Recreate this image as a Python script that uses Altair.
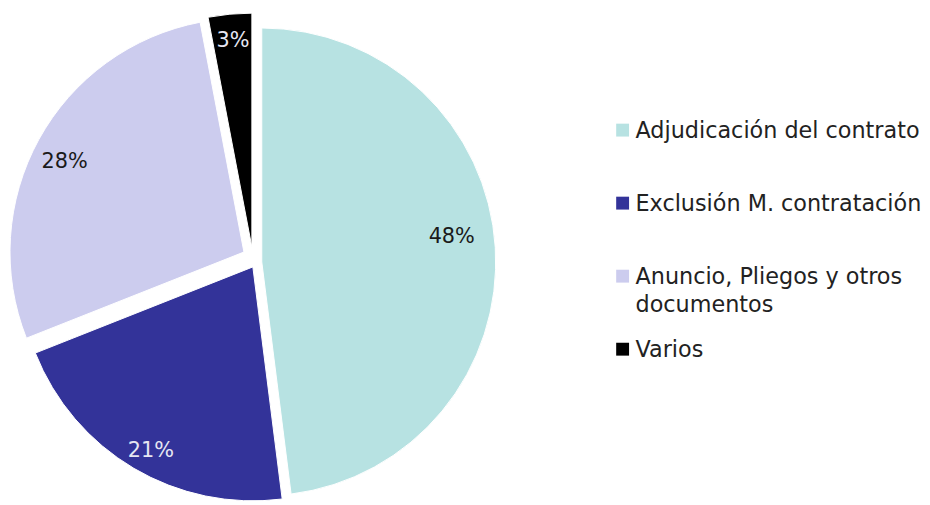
import altair as alt
import pandas as pd
import math

# ---- data ----
categories = ["Adjudicación del contrato", "Exclusión M. contratación",
              "Anuncio, Pliegos y otros documentos", "Varios"]
values = [48, 21, 28, 3]
legend_labels = ["Adjudicación del contrato", "Exclusión M. contratación",
                 "Anuncio, Pliegos y otros\ndocumentos", "Varios"]
colors = ["#b7e2e2", "#333399", "#ccccee", "#000000"]

# ---- styling (not data) ----
label_colors = ["#1a1a1a", "#e6e6f2", "#1a1a1a", "#e6e6f2"]
explode = [(9, 9), (0, 14), (-9, -1), (-1, -6)]   # px offsets of each slice
label_radius = [192, 212, 212, 212]
label_shift = [(0, -13), (5, 3), (5, 11), (1, 3)]
R = 236
FONT = "DejaVu Sans"

df = pd.DataFrame({
    "cat": categories,
    "value": values,
    "order": list(range(len(categories))),
    "legend": legend_labels,
})

color_scale = alt.Scale(domain=categories, range=colors)
theta_scale = alt.Scale(domain=[0, 100], range=[0, 2 * math.pi])

base = alt.Chart(df).transform_window(
    cum="sum(value)", sort=[{"field": "order"}], frame=[None, 0]
).transform_calculate(
    start="datum.cum - datum.value",
    mid="datum.cum - datum.value / 2",
    pct="datum.value + '%'",
)

layers = []
for i, cat in enumerate(categories):
    dx, dy = explode[i]
    sub = base.transform_filter(alt.datum.cat == cat)
    arc = sub.mark_arc(radius=R, xOffset=dx, yOffset=dy, stroke="white",
                       strokeWidth=1).encode(
        theta=alt.Theta("start:Q", scale=theta_scale, stack=None),
        theta2="cum:Q",
        color=alt.Color("cat:N", scale=color_scale, legend=None),
    )
    lx, ly = label_shift[i]
    txt = sub.mark_text(radius=label_radius[i], xOffset=dx + lx, yOffset=dy + ly,
                        font=FONT, fontSize=21, color=label_colors[i],
                        align="center", baseline="middle").encode(
        theta=alt.Theta("mid:Q", scale=theta_scale, stack=None),
        text="pct:N",
    )
    layers += [arc, txt]

pie = alt.layer(*layers).properties(width=488, height=490)

ys = alt.Y("cat:N", sort=categories, axis=None,
           scale=alt.Scale(type="point", domain=categories, range=[121, 342], padding=0))

leg_sq = alt.Chart(df).mark_square(size=169, opacity=1).encode(
    x=alt.value(126),
    y=ys,
    color=alt.Color("cat:N", scale=color_scale, legend=None),
)
leg_txt = alt.Chart(df).mark_text(align="left", baseline="alphabetic", dy=8,
                                  font=FONT, fontSize=22.5, lineBreak="\n",
                                  lineHeight=28, color="#222222").encode(
    x=alt.value(139),
    y=ys,
    text="legend:N",
)
legend = alt.layer(leg_sq, leg_txt).properties(width=420, height=490)

chart = alt.hconcat(pie, legend, spacing=0).properties(
    padding=0
).configure(background="white").configure_view(stroke=None)

chart.save("out.html", embed_options={"renderer": "svg", "actions": False})
